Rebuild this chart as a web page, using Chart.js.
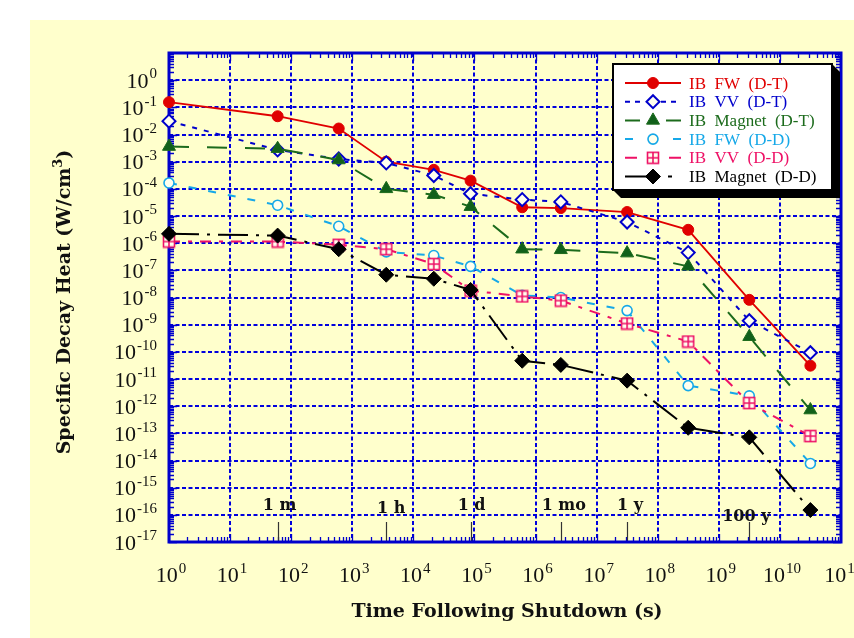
<!DOCTYPE html>
<html><head><meta charset="utf-8">
<style>html,body{margin:0;padding:0;background:#fff;overflow:hidden}</style>
<script src="https://cdn.jsdelivr.net/npm/chart.js@4.4.0/dist/chart.umd.min.js"></script>
</head><body>
<canvas id="c" width="854" height="638"></canvas>
<script>
// ---------------- data ----------------
const times = [1, 60, 600, 3600, 21600, 86400, 604800, 2592000, 31536000, 315360000, 3153600000, 31536000000];
const seriesNames = ['IB  FW  (D-T)', 'IB  VV  (D-T)', 'IB  Magnet  (D-T)', 'IB  FW  (D-D)', 'IB  VV  (D-D)', 'IB  Magnet  (D-D)'];
const fwDT  = [0.155, 0.047, 0.0166, 1.0e-3, 5.0e-4, 2.0e-4, 2.1e-5, 1.96e-5, 1.4e-5, 3.1e-6, 8.2e-9, 3.1e-11];
const vvDT  = [0.031, 2.7e-3, 1.25e-3, 9.0e-4, 3.1e-4, 6.6e-5, 4.0e-5, 3.3e-5, 6.0e-6, 4.5e-7, 1.4e-9, 9.3e-11];
const magDT = [3.6e-3, 3.0e-3, 1.15e-3, 1.0e-4, 6.1e-5, 2.2e-5, 6.0e-7, 5.7e-7, 4.3e-7, 1.4e-7, 3.6e-10, 7.2e-13];
const fwDD  = [1.65e-4, 2.5e-5, 4.2e-6, 4.8e-7, 3.5e-7, 1.4e-7, 1.2e-8, 1.0e-8, 3.3e-9, 5.7e-12, 2.4e-12, 7.8e-15];
const vvDD  = [1.15e-6, 1.15e-6, 8.7e-7, 6.0e-7, 1.7e-7, 1.8e-8, 1.1e-8, 7.7e-9, 1.1e-9, 2.4e-10, 1.3e-12, 7.9e-14];
const magDD = [2.2e-6, 1.9e-6, 6.0e-7, 6.9e-8, 4.9e-8, 1.9e-8, 4.7e-11, 3.3e-11, 8.7e-12, 1.6e-13, 7.1e-14, 1.5e-16];
const yTickExponents = [0, -1, -2, -3, -4, -5, -6, -7, -8, -9, -10, -11, -12, -13, -14, -15, -16, -17];
const xTickExponents = [0, 1, 2, 3, 4, 5, 6, 7, 8, 9, 10, 11];
const markerTimes  = [60, 3600, 86400, 2592000, 31536000, 3153600000];
const markerLabels = ['1 m', '1 h', '1 d', '1 mo', '1 y', '100 y'];
const xTitle = 'Time Following Shutdown (s)';
const yTitleMain = 'Specific Decay Heat (W/cm';
const yTitleSup = '3';
const yTitleEnd = ')';

// ---------------- styles ----------------
const BG = '#ffffcc';
const AXIS = '#0000cc';
const GRID = '#0000dd';
const SERIF = '"Liberation Serif", "Times New Roman", serif';
const WIDE = '"DejaVu Serif", serif';

function squarePlus(color) {
  const cv = document.createElement('canvas');
  cv.width = 14; cv.height = 14;
  const g = cv.getContext('2d');
  g.fillStyle = '#ffffee'; g.fillRect(1, 1, 12, 12);
  g.strokeStyle = color; g.lineWidth = 1.6;
  g.strokeRect(1.5, 1.5, 11, 11);
  g.beginPath(); g.moveTo(7, 1.5); g.lineTo(7, 12.5); g.moveTo(1.5, 7); g.lineTo(12.5, 7); g.stroke();
  return cv;
}

const styles = [
  {color: '#e00000', dash: [], ps: 'circle', r: 5.5, bg: '#e00000', bw: 1, lw: 1.8},
  {color: '#0000cc', dash: [5, 7], ps: 'rectRot', r: 6.5, bg: '#ffffee', bw: 2, lw: 2},
  {color: '#1c6b1c', dash: [20, 18], ps: 'triangle', r: 7.5, bg: '#11601a', bw: 1, lw: 2},
  {color: '#16a8e8', dash: [8, 12], ps: 'circle', r: 5, bg: '#ffffee', bw: 1.6, lw: 2},
  {color: '#ee1166', dash: [11, 8, 4, 8], ps: squarePlus('#ee1166'), r: 6, bg: '#ffffee', bw: 1.6, lw: 2},
  {color: '#000000', dash: [30, 8, 3, 8], ps: 'rectRot', r: 7.5, bg: '#000000', bw: 1, lw: 2}
];
const legendDash = [[], [5, 5], [15, 100], [8, 100], [12, 100], [100, 0]];

const seriesValues = [fwDT, vvDT, magDT, fwDD, vvDD, magDD];
const datasets = seriesValues.map((vals, i) => {
  const s = styles[i];
  return {
    label: seriesNames[i],
    data: times.map((t, j) => ({x: t, y: vals[j]})),
    borderColor: s.color,
    borderWidth: s.lw,
    borderDash: s.dash,
    pointStyle: s.ps,
    pointRadius: s.r,
    pointBackgroundColor: s.bg,
    pointBorderColor: s.color,
    pointBorderWidth: s.bw,
    fill: false,
    tension: 0,
    clip: false,
    order: 10 - i
  };
});

function drawPow(ctx, x, y, exp, align, bigSize, supSize, font) {
  ctx.font = bigSize + 'px ' + font;
  const w10 = ctx.measureText('10').width;
  ctx.font = supSize + 'px ' + font;
  const ws = ctx.measureText(exp).width;
  const total = w10 + 1 + ws;
  let x0 = align === 'right' ? x - total : x - total / 2;
  ctx.textAlign = 'left';
  ctx.textBaseline = 'alphabetic';
  ctx.font = bigSize + 'px ' + font;
  ctx.fillText('10', x0, y);
  ctx.font = supSize + 'px ' + font;
  ctx.fillText(exp, x0 + w10 + 1, y - bigSize * 0.42);
}

const decor = {
  id: 'decor',
  beforeDraw(chart) {
    const c = chart.ctx;
    c.save();
    c.fillStyle = '#ffffff'; c.fillRect(0, 0, 854, 638);
    c.fillStyle = BG; c.fillRect(30, 20, 824, 618);
    c.restore();
  },
  beforeDatasetsDraw(chart) {
    const ctx = chart.ctx, a = chart.chartArea, xs = chart.scales.x, ys = chart.scales.y;
    ctx.save();
    // grid lines
    ctx.strokeStyle = GRID; ctx.lineWidth = 2; ctx.setLineDash([4, 2.5]);
    ctx.beginPath();
    for (let e = -16; e <= 0; e++) {
      const py = Math.round(ys.getPixelForValue(Math.pow(10, e)));
      ctx.moveTo(a.left, py); ctx.lineTo(a.right, py);
    }
    for (let e = 1; e <= 10; e++) {
      const px = Math.round(xs.getPixelForValue(Math.pow(10, e)));
      ctx.moveTo(px, a.top); ctx.lineTo(px, a.bottom);
    }
    ctx.stroke();
    ctx.setLineDash([]);
    // minor ticks
    ctx.strokeStyle = AXIS; ctx.lineWidth = 1.3;
    ctx.beginPath();
    for (let d = -17; d <= 0; d++) {
      for (let k = 1; k <= 9; k++) {
        const py = Math.round(ys.getPixelForValue(k * Math.pow(10, d))) + 0.5;
        const len = k === 1 ? 8 : 5;
        ctx.moveTo(a.left, py); ctx.lineTo(a.left + len, py);
        ctx.moveTo(a.right, py); ctx.lineTo(a.right - len, py);
      }
    }
    for (let d = 0; d <= 10; d++) {
      for (let k = 1; k <= 9; k++) {
        const px = Math.round(xs.getPixelForValue(k * Math.pow(10, d))) + 0.5;
        const len = k === 1 ? 8 : 5;
        ctx.moveTo(px, a.bottom); ctx.lineTo(px, a.bottom - len);
        ctx.moveTo(px, a.top); ctx.lineTo(px, a.top + len);
      }
    }
    ctx.stroke();
    // time markers
    ctx.strokeStyle = '#333'; ctx.lineWidth = 1.2;
    ctx.beginPath();
    markerTimes.forEach(t => {
      const px = Math.round(xs.getPixelForValue(t)) + 0.5;
      ctx.moveTo(px, a.bottom - 20); ctx.lineTo(px, a.bottom);
    });
    ctx.stroke();
    ctx.fillStyle = '#111';
    ctx.font = 'bold 16px ' + WIDE;
    ctx.textAlign = 'center'; ctx.textBaseline = 'alphabetic';
    const labelDx = [2, 5, 1, 3, 3, -3];
    const labelY = [510, 513, 510, 510, 510, 521];
    markerTimes.forEach((t, i) => {
      const px = xs.getPixelForValue(t);
      ctx.fillText(markerLabels[i], px + labelDx[i], labelY[i]);
    });
    // frame
    ctx.strokeStyle = AXIS; ctx.lineWidth = 3;
    ctx.strokeRect(a.left, a.top, a.right - a.left, a.bottom - a.top);
    ctx.restore();
  },
  afterDraw(chart) {
    const ctx = chart.ctx, a = chart.chartArea, xs = chart.scales.x, ys = chart.scales.y;
    ctx.save();
    ctx.fillStyle = '#111';
    // y tick labels
    yTickExponents.forEach(e => {
      const py = ys.getPixelForValue(Math.pow(10, e));
      drawPow(ctx, 157, py + 7.5, e < 0 ? '-' + (-e) : String(e), 'right', 22, 15, SERIF);
    });
    // x tick labels
    xTickExponents.forEach(e => {
      const px = xs.getPixelForValue(Math.pow(10, e));
      drawPow(ctx, px + 2, 582, String(e), 'center', 22, 15, SERIF);
    });
    // x title
    ctx.font = 'bold 19px ' + WIDE;
    ctx.textAlign = 'center'; ctx.textBaseline = 'alphabetic';
    ctx.fillText(xTitle, 507, 617);
    // y title
    ctx.save();
    ctx.translate(70, 302);
    ctx.rotate(-Math.PI / 2);
    ctx.font = 'bold 19px ' + WIDE;
    const w1 = ctx.measureText(yTitleMain).width;
    const w3 = ctx.measureText(yTitleEnd).width;
    ctx.font = 'bold 13px ' + WIDE;
    const w2 = ctx.measureText(yTitleSup).width;
    let x0 = -(w1 + w2 + w3) / 2;
    ctx.textAlign = 'left';
    ctx.font = 'bold 19px ' + WIDE;
    ctx.fillText(yTitleMain, x0, 0);
    ctx.font = 'bold 13px ' + WIDE;
    ctx.fillText(yTitleSup, x0 + w1, -8);
    ctx.font = 'bold 19px ' + WIDE;
    ctx.fillText(yTitleEnd, x0 + w1 + w2, 0);
    ctx.restore();
    // legend
    const L = 613, T = 64, R = 832, B = 190, S = 8;
    ctx.fillStyle = '#000';
    ctx.beginPath();
    ctx.moveTo(R, T); ctx.lineTo(R + S, T + S); ctx.lineTo(R + S, B + S);
    ctx.lineTo(L + S, B + S); ctx.lineTo(L, B); ctx.closePath(); ctx.fill();
    ctx.fillStyle = '#fff'; ctx.fillRect(L, T, R - L, B - T);
    ctx.strokeStyle = '#000'; ctx.lineWidth = 2; ctx.strokeRect(L, T, R - L, B - T);
    chart.data.datasets.forEach((ds, i) => {
      const ry = 83 + i * 18.7;
      const s = styles[i];
      ctx.strokeStyle = s.color; ctx.lineWidth = 2;
      ctx.setLineDash(legendDash[i]);
      ctx.beginPath();
      if (i === 0) { ctx.moveTo(625, ry); ctx.lineTo(681, ry); }
      else if (i === 5) { ctx.moveTo(625, ry); ctx.lineTo(650, ry); ctx.moveTo(668, ry); ctx.lineTo(672, ry); }
      else if (i === 1) { ctx.moveTo(625, ry); ctx.lineTo(645, ry); ctx.moveTo(661, ry); ctx.lineTo(681, ry); }
      else { ctx.moveTo(625, ry); ctx.lineTo(625 + legendDash[i][0], ry); ctx.moveTo(681 - legendDash[i][0], ry); ctx.lineTo(681, ry); }
      ctx.stroke();
      ctx.setLineDash([]);
      ctx.fillStyle = s.bg; ctx.strokeStyle = s.color; ctx.lineWidth = s.bw;
      Chart.helpers.drawPoint(ctx, {pointStyle: s.ps, radius: s.r, borderWidth: s.bw, rotation: 0}, 653, ry);
      ctx.fillStyle = s.color;
      ctx.font = '17px ' + SERIF;
      ctx.textAlign = 'left'; ctx.textBaseline = 'alphabetic';
      ctx.fillText(ds.label, 689, ry + 5.5);
    });
    ctx.restore();
  }
};

new Chart(document.getElementById('c'), {
  type: 'line',
  data: {datasets},
  options: {
    responsive: false,
    animation: false,
    devicePixelRatio: 1,
    events: [],
    layout: {autoPadding: false, padding: {left: 0, top: 53, right: 13, bottom: 0}},
    plugins: {legend: {display: false}, tooltip: {enabled: false}, title: {display: false}},
    scales: {
      x: {
        type: 'logarithmic', min: 1, max: 1e11,
        grid: {display: false}, border: {display: false},
        ticks: {display: false},
        afterFit(s) { s.height = 96; }
      },
      y: {
        type: 'logarithmic', min: 1e-17, max: 10,
        grid: {display: false}, border: {display: false},
        ticks: {display: false},
        afterFit(s) { s.width = 169; }
      }
    }
  },
  plugins: [decor]
});
</script>
</body></html>
